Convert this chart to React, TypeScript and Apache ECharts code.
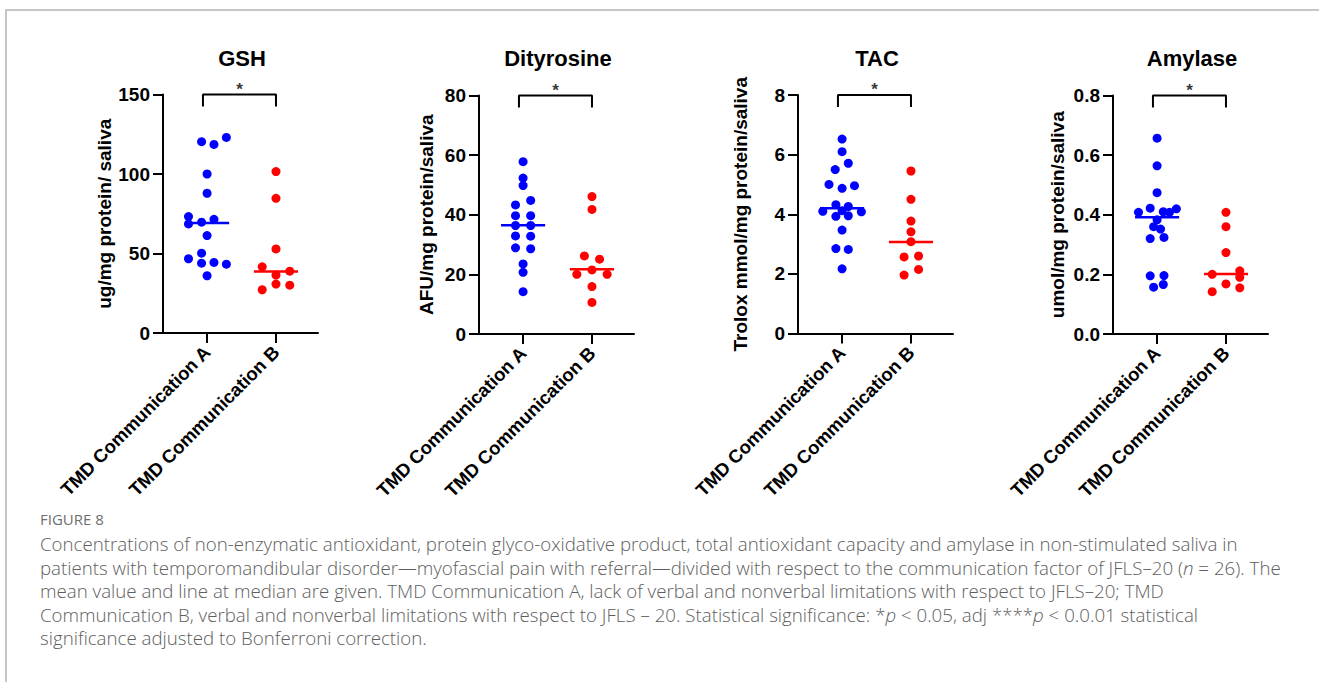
import React, { useEffect, useRef } from "react";
import * as echarts from "echarts";

// ---------- data ----------
const categories = ["TMD Communication A", "TMD Communication B"];
const panelTitles = ["GSH", "Dityrosine", "TAC", "Amylase"];
const yAxisNames = [
  "ug/mg protein/ saliva",
  "AFU/mg protein/saliva",
  "Trolox mmol/mg protein/saliva",
  "umol/mg protein/saliva",
];
const yMax = [150, 80, 8, 0.8];
const yStep = [50, 20, 2, 0.2];
const yDecimals = [0, 0, 0, 1];

// GSH
const gshA = [123.0, 120.3, 118.6, 100.0, 87.9, 73.2, 68.6, 69.7, 71.5, 61.3, 50.2, 46.7, 43.9, 44.4, 43.3, 36.0];
const gshAJitter = [0.28, -0.08, 0.1, 0, 0, -0.27, -0.27, -0.08, 0.1, 0, -0.08, -0.27, -0.08, 0.1, 0.28, 0];
const gshB = [101.5, 84.7, 52.9, 41.6, 36.4, 38.9, 27.2, 30.8, 30.1];
const gshBJitter = [0, 0, 0, -0.2, 0, 0.2, -0.2, 0, 0.2];
// Dityrosine
const dtyA = [57.8, 52.3, 49.8, 43.3, 44.8, 39.7, 39.7, 36.4, 36.4, 32.9, 32.8, 28.9, 28.6, 23.5, 20.7, 14.2];
const dtyAJitter = [0, 0, 0, -0.11, 0.11, -0.11, 0.11, -0.11, 0.11, -0.11, 0.11, -0.11, 0.11, 0, 0, 0];
const dtyB = [46.1, 41.8, 26.2, 25.1, 21.5, 20.0, 20.0, 15.9, 10.6];
const dtyBJitter = [0, 0, -0.11, 0.11, 0, -0.22, 0.22, 0, 0];
// TAC
const tacA = [6.52, 6.1, 5.71, 5.5, 5.0, 4.87, 4.96, 4.32, 4.26, 4.1, 4.12, 4.08, 3.93, 3.95, 3.47, 2.85, 2.82, 2.17];
const tacAJitter = [0, 0, 0.09, -0.1, -0.19, 0, 0.18, -0.09, 0.09, -0.28, 0, 0.28, -0.09, 0.09, 0, -0.09, 0.09, 0];
const tacB = [5.45, 4.5, 3.77, 3.41, 3.08, 2.57, 2.6, 1.96, 2.15];
const tacBJitter = [0, 0, 0, 0, 0, -0.1, 0.11, -0.1, 0.11];
// Amylase
const amyA = [0.657, 0.564, 0.474, 0.408, 0.422, 0.41, 0.408, 0.42, 0.383, 0.36, 0.352, 0.32, 0.324, 0.195, 0.196, 0.157, 0.166];
const amyAJitter = [0, 0, 0, -0.27, -0.1, 0.09, 0.18, 0.28, 0, -0.05, 0.05, -0.1, 0.1, -0.1, 0.1, -0.05, 0.09];
const amyB = [0.408, 0.36, 0.273, 0.2, 0.212, 0.19, 0.168, 0.155, 0.142];
const amyBJitter = [0, 0, 0, -0.2, 0.2, 0.2, 0, 0.2, -0.2];

const groupA = [gshA, dtyA, tacA, amyA];
const groupAJitter = [gshAJitter, dtyAJitter, tacAJitter, amyAJitter];
const groupB = [gshB, dtyB, tacB, amyB];
const groupBJitter = [gshBJitter, dtyBJitter, tacBJitter, amyBJitter];
const medianA = [69.2, 36.5, 4.2, 0.392];
const medianB = [38.7, 21.7, 3.07, 0.201];

const captionHead = "FIGURE 8";
const captionLines = [
  "Concentrations of non-enzymatic antioxidant, protein glyco-oxidative product, total antioxidant capacity and amylase in non-stimulated saliva in",
  "patients with temporomandibular disorder\u2014myofascial pain with referral\u2014divided with respect to the communication factor of JFLS\u201320 ({i|n} = 26). The",
  "mean value and line at median are given. TMD Communication A, lack of verbal and nonverbal limitations with respect to JFLS\u201320; TMD",
  "Communication B, verbal and nonverbal limitations with respect to JFLS \u2013 20. Statistical significance: *{i|p} < 0.05, adj ****{i|p} < 0.0.01 statistical",
  "significance adjusted to Bonferroni correction.",
];

// ---------- layout ----------
const gridLeft = [163, 479, 798, 1113];
const gridTop = [94.5, 95.5, 95, 95.5];
const gridW = 155;
const gridH = 238.5;
const nameGaps = [49, 43, 48, 46];
const BLUE = "#0000ff";
const RED = "#ff0000";
const FONT = "Liberation Sans";
const CAPFONT = "Open Sans";
const CAPSIZE = 18.7;

export default function App() {
  const ref = useRef<HTMLDivElement>(null);
  useEffect(() => {
    if (!ref.current) return;
    const chart = echarts.init(ref.current, null, { renderer: "svg" });
    const grid: any[] = [];
    const xAxis: any[] = [];
    const yAxis: any[] = [];
    const series: any[] = [];
    const graphic: any[] = [
      {
        type: "rect",
        silent: true,
        z: -10,
        shape: { x: 6, y: 10, width: 1400, height: 800 },
        style: { fill: "none", stroke: "#b4b4b4", lineWidth: 1.5 },
      },
    ];

    for (let p = 0; p < 4; p++) {
      grid.push({ left: gridLeft[p], top: gridTop[p], width: gridW, height: gridH });
      xAxis.push({
        type: "value",
        gridIndex: p,
        min: -0.64,
        max: 1.61,
        splitLine: { show: false },
        axisLine: { show: true, onZero: false, lineStyle: { color: "#000", width: 2 } },
        axisTick: { show: true, customValues: [0, 1], length: 10, lineStyle: { color: "#000", width: 2 } },
        axisLabel: {
          show: true,
          customValues: [0, 1],
          rotate: 45,
          margin: 16,
          color: "#000",
          fontFamily: FONT,
          fontWeight: "bold",
          fontSize: 18.5,
          formatter: (v: number) => categories[Math.round(v)] ?? "",
        },
      });
      const dec = yDecimals[p];
      yAxis.push({
        type: "value",
        gridIndex: p,
        min: 0,
        max: yMax[p],
        interval: yStep[p],
        name: yAxisNames[p],
        nameLocation: "middle",
        nameGap: nameGaps[p],
        nameTextStyle: { color: "#000", fontFamily: FONT, fontWeight: "bold", fontSize: 19 },
        splitLine: { show: false },
        axisLine: { show: true, onZero: false, lineStyle: { color: "#000", width: 2 } },
        axisTick: { show: true, length: 10, lineStyle: { color: "#000", width: 2 } },
        axisLabel: {
          color: "#000",
          fontFamily: FONT,
          fontWeight: "bold",
          fontSize: 19,
          margin: 13,
          formatter: (v: number) => v.toFixed(dec),
        },
      });
      series.push({
        type: "scatter",
        xAxisIndex: p,
        yAxisIndex: p,
        symbolSize: 9,
        itemStyle: { color: BLUE, opacity: 1 },
        data: groupA[p].map((v, i) => [0 + groupAJitter[p][i], v]),
        z: 3,
      });
      series.push({
        type: "scatter",
        xAxisIndex: p,
        yAxisIndex: p,
        symbolSize: 9,
        itemStyle: { color: RED, opacity: 1 },
        data: groupB[p].map((v, i) => [1 + groupBJitter[p][i], v]),
        z: 3,
      });
      series.push({
        type: "line",
        xAxisIndex: p,
        yAxisIndex: p,
        symbol: "none",
        lineStyle: { color: BLUE, width: 2.5 },
        data: [[-0.32, medianA[p]], [0.32, medianA[p]]],
        z: 4,
      });
      series.push({
        type: "line",
        xAxisIndex: p,
        yAxisIndex: p,
        symbol: "none",
        lineStyle: { color: RED, width: 2.5 },
        data: [[0.68, medianB[p]], [1.32, medianB[p]]],
        z: 4,
      });
      const top = yMax[p];
      const leg = yMax[p] * 0.95;
      series.push({
        type: "line",
        xAxisIndex: p,
        yAxisIndex: p,
        symbol: "none",
        clip: false,
        lineStyle: { color: "#000", width: 2 },
        data: [[-0.06, leg], [-0.06, top], [1, top], [1, leg]],
        z: 4,
      });
      series.push({
        type: "scatter",
        xAxisIndex: p,
        yAxisIndex: p,
        symbolSize: 0,
        clip: false,
        data: [[0.47, top]],
        label: {
          show: true,
          position: "top",
          distance: -3,
          formatter: "*",
          color: "#000",
          fontFamily: FONT,
          fontWeight: "bold",
          fontSize: 17,
        },
      });
      graphic.push({
        type: "text",
        x: gridLeft[p] + gridW / 2 + 1.5,
        y: 58.5,
        style: {
          text: panelTitles[p],
          textAlign: "center",
          textVerticalAlign: "middle",
          fill: "#000",
          fontFamily: FONT,
          fontWeight: "bold",
          fontSize: 22,
        },
      });
    }

    graphic.push({
      type: "text",
      x: 40,
      y: 519,
      style: {
        text: captionHead,
        textVerticalAlign: "middle",
        fill: "#6e6e6e",
        fontFamily: CAPFONT,
        fontSize: 15,
      },
    });
    const lineYs = [543, 567, 590.5, 614, 637.5];
    captionLines.forEach((t, i) => {
      graphic.push({
        type: "text",
        x: 40,
        y: lineYs[i],
        style: {
          text: t,
          textVerticalAlign: "middle",
          fill: "#5e5e5e",
          fontFamily: CAPFONT,
          fontWeight: 300,
          fontSize: CAPSIZE,
          rich: { i: { fontStyle: "italic", fontFamily: CAPFONT, fontWeight: 300, fontSize: CAPSIZE, fill: "#5e5e5e" } },
        },
      });
    });

    chart.setOption({
      animation: false,
      backgroundColor: "#fff",
      grid,
      xAxis,
      yAxis,
      series,
      graphic,
    });
    return () => chart.dispose();
  }, []);

  return (
    <div
      ref={ref}
      style={{ position: "fixed", left: 0, top: 0, width: 1319, height: 682, background: "#fff" }}
    />
  );
}
